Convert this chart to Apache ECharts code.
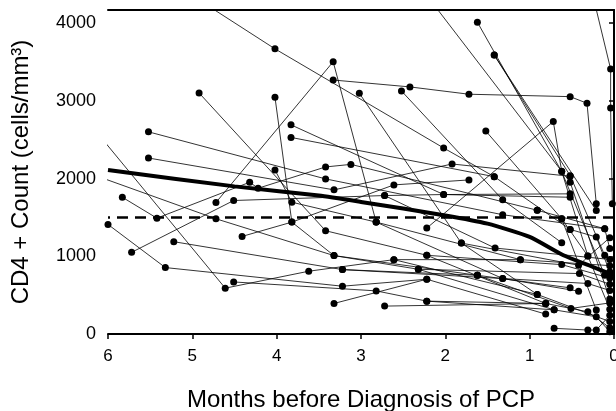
<!DOCTYPE html>
<html>
<head>
<meta charset="utf-8">
<script src="https://cdn.jsdelivr.net/npm/echarts@6/dist/echarts.min.js"></script>
<style>
html, body { margin: 0; padding: 0; background: #fff; }
#chart { width: 616px; height: 411px; }
</style>
</head>
<body>
<div id="chart"></div>
<script>
// months before diagnosis, CD4 count per patient visit
var tracks = [
	[[3.33,3269],[2.42,3180],[1.72,3086],[0.52,3055],[0.32,2970],[0.21,1675]],
	[[2.52,3128],[1.32,1727],[0.62,1175]],
	[[1.62,4013],[0.62,2090],[0.11,756]],
	[[1.42,3590],[0.52,2038],[0.11,1013]],
	[[1.42,3590],[0.21,1590]],
	[[2.25,4400],[0.52,1953],[0.05,450]],
	[[0.26,4400],[0.04,3410],[0.04,2910],[0.02,1675]],
	[[2.22,1363],[0.72,2735],[0.62,2094],[0.31,1004]],
	[[1.52,2612],[0.62,1483],[0.21,308]],
	[[3.02,3099],[1.81,1170],[0.91,509]],
	[[4.72,1692],[3.33,3504],[2.82,1440]],
	[[4.92,3102],[3.42,1329],[2.22,1013],[0.81,393]],
	[[4.02,3047],[3.82,1440],[3.32,1009],[1.62,756]],
	[[3.83,2692],[2.02,1795],[0.52,1760]],
	[[3.83,2530],[1.42,2025],[0.52,1346]],
	[[4.85,4250],[4.02,3670],[2.02,2394],[1.42,2025]],
	[[5.52,2602],[3.42,1996],[1.32,1535],[0.11,1355]],
	[[5.52,2265],[3.32,1855],[1.92,2188],[0.52,2030]],
	[[6.25,2750],[4.61,590],[3.62,808],[2.61,957],[1.11,957]],
	[[6.0,1410],[5.32,855],[3.22,615],[2.22,705],[0.81,256]],
	[[6.1,2020],[4.72,1483],[3.32,1009],[2.32,833],[0.71,311]],
	[[5.83,1760],[5.42,1491],[4.32,1953],[4.22,1876],[3.42,2150],[3.12,2183],[0.91,1593]],
	[[5.72,1051],[4.51,1718],[2.72,1782],[2.02,1795],[0.52,1804]],
	[[5.22,1188],[3.22,829],[1.62,756],[0.52,594]],
	[[4.41,1256],[3.82,1440],[2.61,1919],[1.72,1983]],
	[[4.51,670],[2.82,555],[2.22,423],[0.81,393]],
	[[4.02,2111],[3.82,1696],[2.82,1440],[1.32,714],[0.42,551]],
	[[3.32,393],[2.22,705]],
	[[2.72,1782],[1.41,1106],[0.05,960]],
	[[2.82,1440],[1.11,957],[0.05,880]],
	[[2.61,957],[0.91,509],[0.05,160]],
	[[2.22,1013],[0.62,893],[0.05,720]],
	[[1.81,1170],[0.42,885],[0.05,1240]],
	[[2.32,833],[0.41,778],[0.05,640]],
	[[3.22,829],[1.32,714],[0.31,650],[0.05,560]],
	[[2.72,359],[0.81,393],[0.31,286],[0.05,80]],
	[[2.22,423],[0.71,311],[0.21,222],[0.05,30]],
	[[0.71,73],[0.31,51],[0.21,51],[0.05,240]],
	[[1.62,756],[0.51,329],[0.05,400]],
	[[0.91,1593],[0.11,1355],[0.05,1100]],
	[[0.52,1346],[0.21,1248],[0.05,800]],
	[[0.62,1483],[0.31,1004],[0.05,320]]
];
var trendMonths = [6, 4.5, 3.5, 3, 2, 1.5, 1, 0.6, 0.3, 0];
var trendCounts = [2110, 1900, 1782, 1700, 1526, 1420, 1250, 1013, 885, 756];
var cutoff = 1500;
var yMax = 4170;

var series = [];
tracks.forEach(function (t) {
	series.push({
		type: 'line',
		data: t,
		symbol: 'circle',
		symbolSize: 7,
		itemStyle: { color: '#000' },
		lineStyle: { color: '#000', width: 0.8 },
		clip: true,
		silent: true
	});
});
series.push({
	type: 'line',
	data: [[0, cutoff], [6, cutoff]],
	showSymbol: false,
	lineStyle: { color: '#000', width: 2.5, type: [11, 7] },
	silent: true
});
series.push({
	type: 'line',
	data: trendMonths.map(function (m, i) { return [m, trendCounts[i]]; }),
	showSymbol: false,
	smooth: 0.2,
	lineStyle: { color: '#000', width: 4 },
	silent: true
});

var myChart = echarts.init(document.getElementById('chart'));
myChart.setOption({
	animation: false,
	backgroundColor: '#fff',
	textStyle: { fontFamily: 'Liberation Sans, Arial, sans-serif' },
	grid: { left: 108, right: 2, top: 10, bottom: 77, containLabel: false, outerBoundsMode: 'none' },
	xAxis: [{
		type: 'value',
		inverse: true,
		min: 0,
		max: 6,
		interval: 1,
		name: 'Months before Diagnosis of PCP',
		nameLocation: 'middle',
		nameGap: 54,
		nameTextStyle: { color: '#000', fontSize: 24 },
		axisLine: { lineStyle: { color: '#000', width: 2 } },
		axisTick: { length: 5, lineStyle: { color: '#000', width: 1.5 } },
		axisLabel: { color: '#000', fontSize: 17, margin: 14 },
		splitLine: { show: false }
	}, {
		type: 'value',
		position: 'top',
		inverse: true,
		min: 0,
		max: 6,
		axisLine: { show: true, lineStyle: { color: '#000', width: 2 } },
		axisTick: { show: false },
		axisLabel: { show: false },
		splitLine: { show: false }
	}],
	yAxis: {
		type: 'value',
		min: 0,
		max: yMax,
		interval: 1000,
		name: 'CD4 + Count (cells/mm³)',
		nameLocation: 'middle',
		nameGap: 75,
		nameTextStyle: { color: '#000', fontSize: 24 },
		axisLine: { show: true, lineStyle: { color: '#000', width: 2 } },
		axisTick: { show: true, length: 5, lineStyle: { color: '#000', width: 1.5 } },
		axisLabel: {
			color: '#000', fontSize: 18, margin: 12, showMaxLabel: false,
			formatter: function (v) { return v % 1000 === 0 ? v : ''; }
		},
		splitLine: { show: false }
	},
	series: series
});
</script>
</body>
</html>
